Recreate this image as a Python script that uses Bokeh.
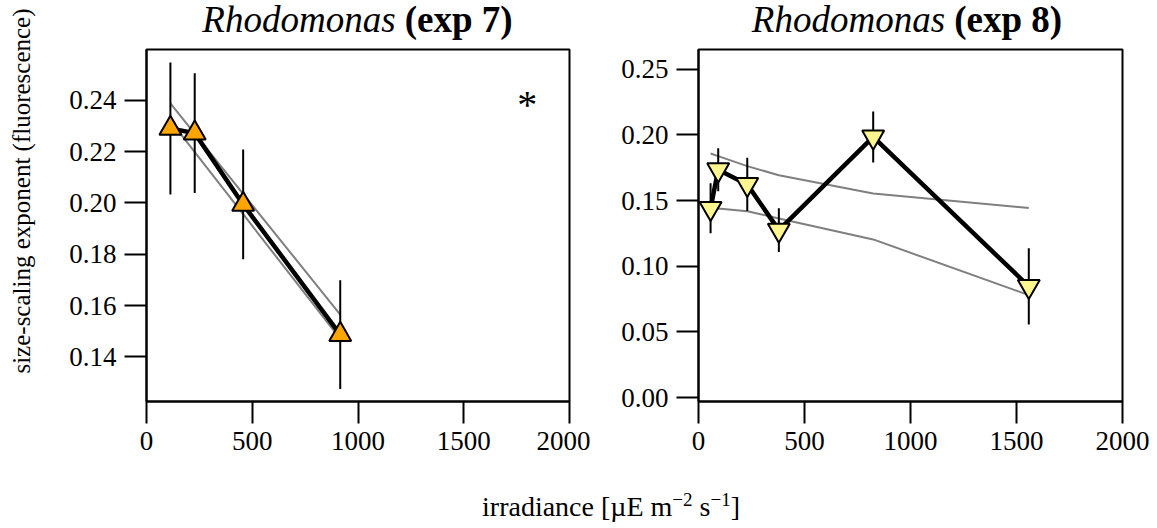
import numpy as np
from bokeh.plotting import figure
from bokeh.models import ColumnDataSource, Label, FixedTicker, NumeralTickFormatter, Range1d, Div
from bokeh.layouts import row, column
from bokeh.embed import file_html
from bokeh.resources import INLINE

# ---------------- data ----------------
x7 = [113, 228, 457, 916]
y7 = [0.2290, 0.2272, 0.1994, 0.1487]
e7 = [0.0257, 0.0233, 0.0214, 0.0212]
x7_band = [113, 916]
upper7 = [0.2388, 0.1565]
lower7 = [0.2320, 0.1470]

x8 = [57, 93, 230, 379, 824, 1558]
y8 = [0.1441, 0.1735, 0.1623, 0.1275, 0.1984, 0.0847]
e8 = [0.0190, 0.0164, 0.0203, 0.0167, 0.0194, 0.0290]
upper8 = [0.1858, 0.1838, 0.1762, 0.1693, 0.1554, 0.1444]
lower8 = [0.1452, 0.1440, 0.1419, 0.1364, 0.1204, 0.0780]

xticks = [0, 500, 1000, 1500, 2000]
yticks7 = [0.14, 0.16, 0.18, 0.20, 0.22, 0.24]
yticks8 = [0.00, 0.05, 0.10, 0.15, 0.20, 0.25]
xrange_ = (0, 2000)
yrange7 = (0.1226, 0.2598)
yrange8 = (-0.003, 0.265)

titles = [("Rhodomonas", "(exp 7)"), ("Rhodomonas", "(exp 8)")]
ylabel = "size-scaling exponent (fluorescence)"

FONT = "Liberation Serif"
ORANGE = "#FFA500"
YELLOW = "#FFF68F"
GREY = "#7F7F7F"

# ---------------- geometry (page pixels) ----------------
TITLE_H = 41
YLAB_W = 60
H = 429
BT, BB = 8, 69
FRAME_TOP = TITLE_H + BT
FRAME_H = H - BT - BB
W1, BL1, BR1 = 530, 86, 21
W2, BL2, BR2 = 559, 108, 27
F1_LEFT = YLAB_W + BL1
F1_W = W1 - BL1 - BR1
F2_LEFT = YLAB_W + W1 + BL2
F2_W = W2 - BL2 - BR2


def y_at(px, yr):
    return yr[1] - (px - FRAME_TOP) * (yr[1] - yr[0]) / FRAME_H


def make_fig(width, yr, bl, br, yticks):
    p = figure(width=width, height=H, x_range=Range1d(*xrange_), y_range=Range1d(*yr),
               output_backend="svg", toolbar_location=None,
               min_border_left=bl, min_border_right=br, min_border_top=BT, min_border_bottom=BB)
    p.grid.visible = False
    p.background_fill_color = "white"
    p.border_fill_color = "white"
    p.outline_line_color = "black"
    p.outline_line_width = 2
    p.outline_line_alpha = 1
    for ax in (p.xaxis[0], p.yaxis[0]):
        ax.major_tick_out = 22
        ax.major_tick_in = 0
        ax.minor_tick_line_color = None
        ax.axis_line_width = 2
        ax.axis_line_color = "black"
        ax.major_tick_line_width = 2
        ax.major_tick_line_color = "black"
        ax.major_label_text_font = FONT
        ax.major_label_text_font_size = "27px"
        ax.major_label_text_color = "black"
        ax.major_label_standoff = 8
    p.xaxis[0].ticker = FixedTicker(ticks=xticks)
    p.xaxis[0].formatter = NumeralTickFormatter(format="0")
    p.yaxis[0].ticker = FixedTicker(ticks=yticks)
    p.yaxis[0].formatter = NumeralTickFormatter(format="0.00")
    return p


def draw_panel(p, xs, ys, es, bx, up, lo, marker, fill):
    p.line(bx, up, line_color=GREY, line_width=2)
    p.line(bx, lo, line_color=GREY, line_width=2)
    src = ColumnDataSource(dict(x=xs, y=ys,
                                lo=[a - b for a, b in zip(ys, es)],
                                hi=[a + b for a, b in zip(ys, es)]))
    p.segment(x0="x", y0="lo", x1="x", y1="hi", source=src, line_color="black", line_width=2)
    p.line("x", "y", source=src, line_color="black", line_width=4.5, line_join="round")
    p.scatter("x", "y", source=src, marker=marker, size=22, fill_color=fill,
              line_color="black", line_width=2)


# ---------------- panel 1 (exp 7) ----------------
p1 = make_fig(W1, yrange7, BL1, BR1, yticks7)
draw_panel(p1, x7, y7, e7, x7_band, upper7, lower7, "triangle", ORANGE)
p1.add_layout(Label(x=1800, y=y_at(104, yrange7), text="*", text_font=FONT, text_font_size="40px",
                    text_align="center", text_baseline="alphabetic", text_color="black"))

# ---------------- panel 2 (exp 8) ----------------
p2 = make_fig(W2, yrange8, BL2, BR2, yticks8)
draw_panel(p2, x8, y8, e8, x8, upper8, lower8, "inverted_triangle", YELLOW)

# ---------------- titles (mixed italic / bold) ----------------
c1 = F1_LEFT + F1_W / 2
c2 = F2_LEFT + F2_W / 2 - 3
tspan = ('<div style="position:absolute;left:{c}px;top:2px;transform:translateX(-50%);'
         'white-space:nowrap;"><i>{a}</i> <b>{b}</b></div>')
title_html = ('<div style="position:relative;width:1149px;height:41px;font-family:\'Liberation Serif\';'
              'font-size:37px;line-height:36px;color:black;">'
              + tspan.format(c=c1, a=titles[0][0], b=titles[0][1])
              + tspan.format(c=c2, a=titles[1][0], b=titles[1][1])
              + '</div>')
title_div = Div(text=title_html, width=1149, height=TITLE_H, margin=(0, 0, 0, 0))

# ---------------- y label (rotated) ----------------
ylab_html = ('<div style="position:relative;width:60px;height:429px;">'
             '<div style="position:absolute;left:21px;top:150px;transform:translate(-50%,-50%) rotate(-90deg);'
             'white-space:nowrap;font-family:\'Liberation Serif\';font-size:25px;line-height:25px;color:black;">'
             f'{ylabel}</div></div>')
ylab_div = Div(text=ylab_html, width=YLAB_W, height=H, margin=(0, 0, 0, 0))

# ---------------- shared x label ----------------
sup = 'style="font-size:19px;line-height:0;vertical-align:10px"'
xlabel_html = ('<div style="width:1000px;margin-left:111px;margin-top:21px;text-align:center;'
               'font-family:\'Liberation Serif\';font-size:28px;line-height:31px;color:black;">'
               f'irradiance [µE m<sup {sup}>−2</sup> s<sup {sup}>−1</sup>]</div>')
xlab_div = Div(text=xlabel_html, width=1149, height=56, margin=(0, 0, 0, 0))

layout = column(title_div, row(ylab_div, p1, p2, spacing=0), xlab_div, spacing=0)
open("out.html", "w").write(file_html(layout, INLINE))
